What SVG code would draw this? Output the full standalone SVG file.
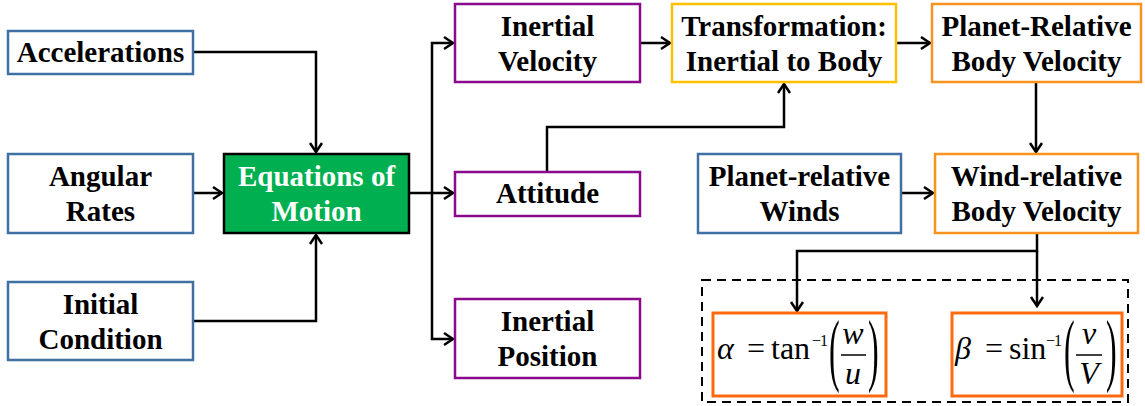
<svg xmlns="http://www.w3.org/2000/svg" width="1145" height="406" viewBox="0 0 1145 406">
<defs>
<style>
.box{fill:#fff;stroke-width:2.5}
.blue{stroke:#3F6FA3}
.purple{stroke:#8B0A8B}
.yellow{stroke:#FFC000}
.orange{stroke:#F7931E}
.red{stroke:#FF6A10;stroke-width:3}
.t{font-family:"Liberation Serif","Times New Roman",serif;font-weight:bold;font-size:29px;text-anchor:middle;fill:#000}
.m{font-family:"Liberation Serif","Times New Roman",serif;font-size:32px;fill:#000}
.sup{font-size:16px;letter-spacing:-1px}
.par{font-size:80px}
.c{fill:none;stroke:#000;stroke-width:2.5}
</style>
<marker id="ah" markerUnits="userSpaceOnUse" markerWidth="14" markerHeight="16" viewBox="-11 -8 14 16" refX="0" refY="0" orient="auto">
<path d="M-9,-6 L0,0 L-9,6" fill="none" stroke="#000" stroke-width="2.5"/>
</marker>
</defs>
<rect width="1145" height="406" fill="#fff"/>

<g id="connectors">
<path class="c" d="M193,52 H316 V152" marker-end="url(#ah)"/>
<path class="c" d="M193,193 H222" marker-end="url(#ah)"/>
<path class="c" d="M193,321 H316 V235" marker-end="url(#ah)"/>
<path class="c" d="M409,193 H453" marker-end="url(#ah)"/>
<path class="c" d="M432,193 V43 H453" marker-end="url(#ah)"/>
<path class="c" d="M432,193 V339 H453" marker-end="url(#ah)"/>
<path class="c" d="M640,43 H670" marker-end="url(#ah)"/>
<path class="c" d="M547,172 V127 H784 V84" marker-end="url(#ah)"/>
<path class="c" d="M896,43 H930" marker-end="url(#ah)"/>
<path class="c" d="M1036,82 V152" marker-end="url(#ah)"/>
<path class="c" d="M901,193 H933" marker-end="url(#ah)"/>
<path class="c" d="M1037,233 V251 H797 V311" marker-end="url(#ah)"/>
<path class="c" d="M1037,251 V306" marker-end="url(#ah)"/>
</g>

<g id="accelerations">
<rect class="box blue" x="8" y="31" width="185" height="43"/>
<text class="t" x="100.5" y="62">Accelerations</text>
</g>
<g id="angular-rates">
<rect class="box blue" x="8" y="154" width="185" height="79"/>
<text class="t" x="100.5" y="186">Angular</text>
<text class="t" x="100.5" y="221">Rates</text>
</g>
<g id="initial-condition">
<rect class="box blue" x="8" y="282" width="185" height="78"/>
<text class="t" x="100.5" y="314">Initial</text>
<text class="t" x="100.5" y="349">Condition</text>
</g>
<g id="equations-of-motion">
<rect x="224" y="154" width="185" height="79" fill="#00B050" stroke="#000" stroke-width="2.5"/>
<text class="t" x="316.5" y="186" style="fill:#fff">Equations of</text>
<text class="t" x="316.5" y="221" style="fill:#fff">Motion</text>
</g>
<g id="inertial-velocity">
<rect class="box purple" x="455" y="4" width="185" height="78"/>
<text class="t" x="547.5" y="36">Inertial</text>
<text class="t" x="547.5" y="71">Velocity</text>
</g>
<g id="attitude">
<rect class="box purple" x="455" y="172" width="185" height="44"/>
<text class="t" x="547.5" y="203">Attitude</text>
</g>
<g id="inertial-position">
<rect class="box purple" x="455" y="299" width="185" height="79"/>
<text class="t" x="547.5" y="331">Inertial</text>
<text class="t" x="547.5" y="366">Position</text>
</g>
<g id="transformation">
<rect class="box yellow" x="672" y="4" width="224" height="78"/>
<text class="t" x="784" y="36">Transformation:</text>
<text class="t" x="784" y="71">Inertial to Body</text>
</g>
<g id="planet-relative-body-velocity">
<rect class="box orange" x="932" y="4" width="209" height="78"/>
<text class="t" x="1036.5" y="36">Planet-Relative</text>
<text class="t" x="1036.5" y="71">Body Velocity</text>
</g>
<g id="planet-relative-winds">
<rect class="box blue" x="698" y="154" width="203" height="79"/>
<text class="t" x="799.5" y="186">Planet-relative</text>
<text class="t" x="799.5" y="221">Winds</text>
</g>
<g id="wind-relative-body-velocity">
<rect class="box orange" x="935" y="154" width="203" height="79"/>
<text class="t" x="1036.5" y="186">Wind-relative</text>
<text class="t" x="1036.5" y="221">Body Velocity</text>
</g>

<g id="angle-group">
<rect x="702" y="280" width="426" height="122" fill="none" stroke="#000" stroke-width="2" stroke-dasharray="9,6"/>
</g>
<g id="alpha">
<rect class="box red" x="713" y="313" width="173" height="83"/>
<text class="m" x="717" y="359" font-style="italic">α</text>
<text class="m" x="756" y="359" text-anchor="middle">=</text>
<text class="m" x="771" y="359">tan</text>
<text class="m sup" x="812" y="346">−1</text>
<text class="m par" transform="translate(829,376) scale(0.4,1)">(</text>
<text class="m" x="853" y="344" font-style="italic" text-anchor="middle">w</text>
<line x1="841" y1="355" x2="866" y2="355" stroke="#000" stroke-width="1.5"/>
<text class="m" x="853" y="384" font-style="italic" text-anchor="middle">u</text>
<text class="m par" transform="translate(868,376) scale(0.4,1)">)</text>
</g>
<g id="beta">
<rect class="box red" x="952" y="313" width="170" height="83"/>
<text class="m" x="955" y="359" font-style="italic">β</text>
<text class="m" x="994" y="359" text-anchor="middle">=</text>
<text class="m" x="1009" y="359">sin</text>
<text class="m sup" x="1046" y="346">−1</text>
<text class="m par" transform="translate(1064,376) scale(0.4,1)">(</text>
<text class="m" x="1089" y="344" font-style="italic" text-anchor="middle">v</text>
<line x1="1076" y1="355" x2="1102" y2="355" stroke="#000" stroke-width="1.5"/>
<text class="m" x="1089" y="384" font-style="italic" text-anchor="middle">V</text>
<text class="m par" transform="translate(1106,376) scale(0.4,1)">)</text>
</g>
</svg>
